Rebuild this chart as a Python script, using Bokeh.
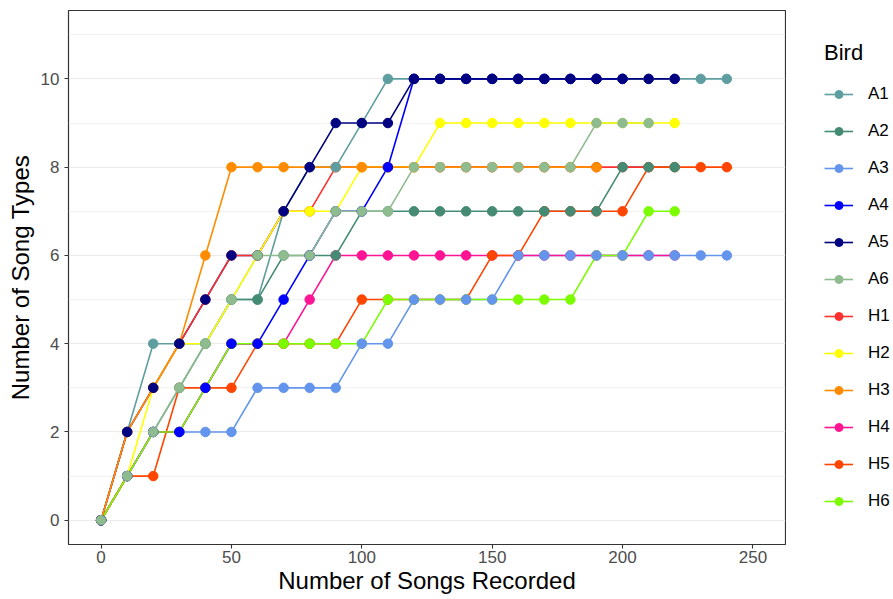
from bokeh.plotting import figure
from bokeh.layouts import row
from bokeh.models import ColumnDataSource, Range1d, FixedTicker, Legend, LegendItem
from bokeh.embed import file_html
from bokeh.resources import INLINE

# ---- data ----
songs = [0, 10, 20, 30, 40, 50, 60, 70, 80, 90, 100, 110, 120, 130, 140, 150,
         160, 170, 180, 190, 200, 210, 220, 230, 240]
birds = ["A1", "A2", "A3", "A4", "A5", "A6", "H1", "H2", "H3", "H4", "H5", "H6"]

A1 = [0, 2, 4, 4, 4, 5, 5, 7, 8, 8, 9, 10, 10, 10, 10, 10, 10, 10, 10, 10, 10, 10, 10, 10, 10]
A2 = [0, 1, 2, 3, 4, 5, 5, 6, 6, 6, 7, 7, 7, 7, 7, 7, 7, 7, 7, 7, 8, 8, 8]
A3 = [0, 1, 2, 2, 2, 2, 3, 3, 3, 3, 4, 4, 5, 5, 5, 5, 6, 6, 6, 6, 6, 6, 6, 6, 6]
A4 = [0, 1, 2, 2, 3, 4, 4, 5, 6, 7, 7, 8, 10, 10, 10, 10, 10, 10, 10, 10, 10]
A5 = [0, 2, 3, 4, 5, 6, 6, 7, 8, 9, 9, 9, 10, 10, 10, 10, 10, 10, 10, 10, 10, 10, 10]
A6 = [0, 1, 2, 3, 4, 5, 6, 6, 6, 7, 7, 7, 8, 8, 8, 8, 8, 8, 8, 9, 9, 9]
H1 = [0, 2, 3, 4, 5, 6, 6, 7, 7, 8, 8, 8, 8, 8, 8, 8, 8, 8, 8, 8, 8, 8]
H2 = [0, 1, 3, 4, 4, 5, 6, 7, 7, 7, 8, 8, 8, 9, 9, 9, 9, 9, 9, 9, 9, 9, 9]
H3 = [0, 2, 3, 4, 6, 8, 8, 8, 8, 8, 8, 8, 8, 8, 8, 8, 8, 8, 8, 8]
H4 = [0, 1, 2, 2, 3, 4, 4, 4, 5, 6, 6, 6, 6, 6, 6, 6, 6, 6, 6, 6, 6, 6, 6]
H5 = [0, 1, 1, 3, 3, 3, 4, 4, 4, 4, 5, 5, 5, 5, 5, 6, 6, 7, 7, 7, 7, 8, 8, 8, 8]
H6 = [0, 1, 2, 2, 3, 4, 4, 4, 4, 4, 4, 5, 5, 5, 5, 5, 5, 5, 5, 6, 6, 7, 7]

values = [A1, A2, A3, A4, A5, A6, H1, H2, H3, H4, H5, H6]

x_ticks = [0, 50, 100, 150, 200, 250]
y_ticks = [0, 2, 4, 6, 8, 10]
y_minor = [1, 3, 5, 7, 9, 11]

# ---- style ----
palette = ["#5F9EA0", "#458B74", "#6495ED", "#0000FF", "#000080", "#8FBC8F",
           "#FF3030", "#FFFF00", "#FF8C00", "#FF1493", "#FF4500", "#7CFC00"]
FONT = "Liberation Sans"
LW = 1.6
PT = 9.5

p = figure(width=786, height=599, output_backend="svg", toolbar_location=None,
           x_range=Range1d(-12.5, 262.5), y_range=Range1d(-0.55, 11.55),
           min_border_left=68, min_border_right=1, min_border_top=10,
           min_border_bottom=55,
           x_axis_label="Number of Songs Recorded",
           y_axis_label="Number of Song Types")

p.background_fill_color = "white"
p.border_fill_color = "white"
p.outline_line_color = "#333333"
p.outline_line_width = 1.2

p.xaxis.ticker = FixedTicker(ticks=x_ticks)
p.yaxis.ticker = FixedTicker(ticks=y_ticks)
p.xgrid.grid_line_color = None
p.ygrid.ticker = FixedTicker(ticks=y_ticks, minor_ticks=y_minor)
p.ygrid.grid_line_color = "#EBEBEB"
p.ygrid.grid_line_width = 1.1
p.ygrid.minor_grid_line_color = "#EBEBEB"
p.ygrid.minor_grid_line_width = 0.7

for ax in (p.xaxis, p.yaxis):
    ax.axis_line_color = None
    ax.major_tick_line_color = "#333333"
    ax.major_tick_line_width = 1.1
    ax.major_tick_out = 4
    ax.major_tick_in = 0
    ax.minor_tick_line_color = None
    ax.major_label_text_font = FONT
    ax.major_label_text_font_size = "17px"
    ax.major_label_text_color = "#4D4D4D"
    ax.axis_label_text_font = FONT
    ax.axis_label_text_font_size = "24px"
    ax.axis_label_text_font_style = "normal"
    ax.axis_label_text_color = "black"
p.xaxis.major_label_standoff = 2
p.yaxis.major_label_standoff = 5
p.xaxis.axis_label_standoff = 1
p.yaxis.axis_label_standoff = 4

sources = []
line_rs = []
for ys, col in zip(values, palette):
    src = ColumnDataSource(dict(x=songs[:len(ys)], y=ys))
    sources.append(src)
    line_rs.append(p.line("x", "y", source=src, line_color=col, line_width=LW))

order = [6, 7, 8, 9, 10, 11, 0, 1, 2, 3, 4, 5]
for i in order:
    p.scatter("x", "y", source=sources[i], size=PT, fill_color=palette[i],
              line_color=palette[i], marker="circle")

# ---- legend area to the right of the plot panel ----
# (its ranges lie outside the data, so only the legend keys show)
lf = figure(width=107, height=599, output_backend="svg", toolbar_location=None,
            x_axis_location=None, y_axis_location=None,
            x_range=Range1d(-30, -20), y_range=Range1d(-30, -20),
            min_border_left=8, min_border_top=10, min_border_right=0,
            min_border_bottom=55)
lf.outline_line_color = None
lf.grid.grid_line_color = None
lf.background_fill_color = "white"
lf.border_fill_color = "white"

items = []
for i, b in enumerate(birds):
    lr = lf.line("x", "y", source=sources[i], line_color=palette[i], line_width=LW)
    sr = lf.scatter("x", "y", source=sources[i], size=PT, fill_color=palette[i],
                    line_color=palette[i], marker="circle")
    items.append(LegendItem(label=b, renderers=[lr, sr]))

legend = Legend(items=items, title="Bird", location="top_left")
legend.border_line_color = None
legend.background_fill_alpha = 0
legend.margin = 30
legend.padding = 0
legend.title_text_font = FONT
legend.title_text_font_size = "22px"
legend.title_text_font_style = "normal"
legend.title_text_color = "black"
legend.title_standoff = 18
legend.label_text_font = FONT
legend.label_text_font_size = "17px"
legend.label_text_color = "black"
legend.glyph_width = 29
legend.glyph_height = 20
legend.label_height = 20
legend.spacing = 17
legend.label_standoff = 15
lf.add_layout(legend, "center")

layout = row(p, lf)
open("out.html", "w").write(file_html(layout, INLINE))
